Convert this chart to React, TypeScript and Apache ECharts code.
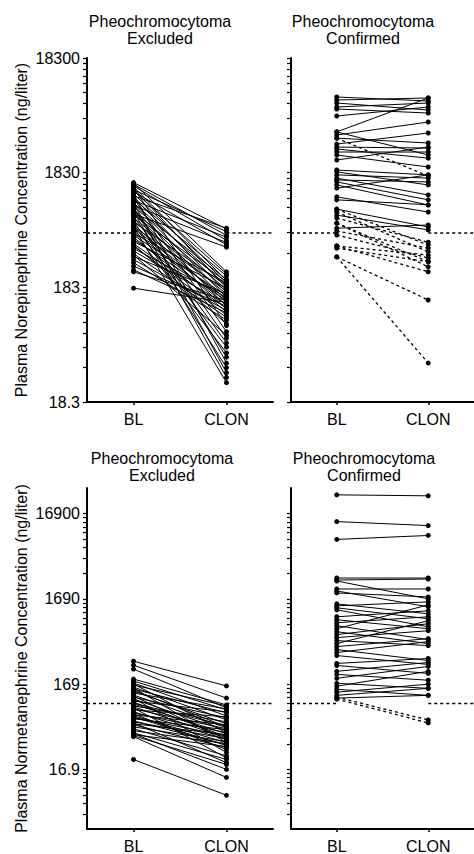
import React, { useEffect, useRef } from 'react';
import * as echarts from 'echarts';

// ---------- data (ng/liter), pairs are [BL, CLON] ----------
const categories = ['BL', 'CLON'];
const neTickLabels = ['18.3', '183', '1830', '18300'];
const nmnTickLabels = ['16.9', '169', '1690', '16900'];
const neBase = 18.3;
const nmnBase = 16.9;
const neReference = 545;
const nmnReference = 100;
const titleExcluded = 'Pheochromocytoma\nExcluded';
const titleConfirmed = 'Pheochromocytoma\nConfirmed';
const neAxisName = 'Plasma Norepinephrine Concentration (ng/liter)';
const nmnAxisName = 'Plasma Normetanephrine Concentration (ng/liter)';

const neExcluded: number[][] = [
  [1500, 590], [1450, 520], [1400, 470], [1300, 560], [1250, 430], [1150, 600], [1050, 500], [950, 450], [800, 410],
  [1480, 250], [1380, 210], [1330, 180], [1270, 240], [1200, 200], [1120, 165], [1080, 230], [1000, 190], [980, 150],
  [920, 215], [880, 140], [850, 175], [820, 125], [780, 205], [740, 160], [700, 135], [680, 190], [650, 118], [620, 170],
  [600, 145], [570, 128], [540, 200], [520, 155], [500, 112], [480, 140], [460, 180], [440, 120], [420, 105], [400, 150],
  [380, 130], [360, 100], [340, 160], [320, 115], [300, 95], [280, 125], [260, 110], [250, 140], [180, 135],
  [1350, 85], [1100, 75], [900, 66], [760, 60], [640, 55], [560, 49], [900, 45], [1200, 40], [700, 36.5], [1000, 33],
  [850, 30], [620, 27], [430, 88], [350, 70],
];

const neConfirmedSolid: number[][] = [
  [8360, 7720], [7870, 8200], [7410, 6440], [6840, 7410], [6570, 6060], [5710, 6840], [4150, 8200], [3900, 5060],
  [3660, 3320], [4150, 2610], [3250, 4060], [3060, 3000], [2940, 2450], [2770, 2770], [2610, 2050], [2360, 3060],
  [1930, 1750], [1860, 1430], [1750, 1640], [1640, 1170], [1580, 1520], [1520, 1060], [1430, 956], [1340, 1750],
  [1125, 830], [1060, 960], [880, 615], [780, 580], [600, 640],
];

const neConfirmedDashed: number[][] = [
  [880, 428], [830, 373], [735, 453], [665, 306], [567, 402], [523, 330], [665, 276], [420, 350], [402, 306],
  [420, 250], [337, 142], [337, 40], [3660, 1710],
];

const nmnExcluded: number[][] = [
  [314, 161], [282, 116], [254, 89], [194, 96.5], [184, 84.4], [174, 71.8], [165, 94], [156, 64.5], [148, 77.9],
  [140, 57.9], [133, 86.7], [126, 52], [119, 68.1], [113, 48], [107, 80], [101, 54.9], [99, 44.3], [94, 61.1],
  [91.5, 39.8], [86.7, 50.7], [84.4, 69.9], [80, 37.8], [77.9, 45.5], [73.8, 56.4], [71.8, 34.9], [68.1, 42],
  [66.3, 49.4], [62.8, 33], [61.1, 38.8], [57.9, 43.2], [56.4, 30.5], [53.4, 35.8], [50.7, 24.4], [48, 33.9],
  [45.5, 22.1], [43.2, 31.3], [42, 19.3], [44.3, 16.9], [40.9, 13.6], [22.1, 8.4], [152, 34.9], [116, 26.6],
  [89, 23.1], [170, 45.5], [122.6, 37.8], [75.8, 28.9], [59.5, 20.3], [144, 53.4], [104, 40.9], [69.9, 32.2],
];

const nmnConfirmedSolid: number[][] = [
  [28100, 27360], [13640, 12250], [8430, 9380], [2970, 2970], [2815, 2890], [2740, 1690], [2210, 2210], [2094, 1364],
  [1985, 1783], [1478, 1130], [1401, 1560], [1328, 989], [1259, 797], [1043, 1225], [963, 756], [888, 1043],
  [820, 563], [756, 1439], [697, 506], [644, 865], [594, 716], [548, 479], [506, 937], [466, 578], [430, 320],
  [397, 533], [366, 288], [296, 338], [280, 226], [239, 304], [220, 188], [198, 273], [173, 151], [160, 239],
  [147, 125], [136, 169], [125, 151], [116, 125],
];

const nmnConfirmedDashed: number[][] = [
  [119, 64.2], [113, 59.3],
];

// ---------- chart ----------
const FONT = '"Liberation Sans", Arial, Helvetica, sans-serif';

function buildOption() {
  const panels = [
    { grid: { left: 87, top: 58, width: 186, height: 344 }, base: neBase, min: 0, max: 3, labels: neTickLabels,
      solid: neExcluded, dashed: [] as number[][], refV: neReference, name: neAxisName,
      title: titleExcluded, tx: 160, ty: 13 },
    { grid: { left: 291, top: 58, width: 183, height: 344 }, base: neBase, min: 0, max: 3, labels: null,
      solid: neConfirmedSolid, dashed: neConfirmedDashed, refV: neReference, name: '',
      title: titleConfirmed, tx: 363, ty: 13 },
    { grid: { left: 87, top: 488, width: 186, height: 344 }, base: nmnBase, min: Math.log10(0.2), max: Math.log10(2) + 3,
      labels: nmnTickLabels, solid: nmnExcluded, dashed: [] as number[][], refV: nmnReference, name: nmnAxisName,
      title: titleExcluded, tx: 162, ty: 450 },
    { grid: { left: 291, top: 488, width: 183, height: 344 }, base: nmnBase, min: Math.log10(0.2), max: Math.log10(2) + 3,
      labels: null, solid: nmnConfirmedSolid, dashed: nmnConfirmedDashed, refV: nmnReference, name: '',
      title: titleConfirmed, tx: 364, ty: 450 },
  ];

  const grids: any[] = [];
  const xAxes: any[] = [];
  const yAxes: any[] = [];
  const series: any[] = [];
  const titles: any[] = [];

  panels.forEach((p, i) => {
    grids.push({ ...p.grid, containLabel: false });
    titles.push({
      text: p.title, left: p.tx, top: p.ty, textAlign: 'center', padding: 0,
      textStyle: { fontFamily: FONT, fontSize: 16, fontWeight: 'normal', color: '#000', lineHeight: 17 },
    });
    xAxes.push({
      type: 'value', gridIndex: i, min: -0.5, max: 1.5,
      axisLine: { show: true, onZero: false, lineStyle: { color: '#000', width: 2 } },
      splitLine: { show: false },
      axisTick: { show: true, customValues: [0, 1], length: 3, lineStyle: { color: '#000', width: 1.5 } },
      axisLabel: {
        show: true, customValues: [0, 1], margin: 9,
        formatter: (v: number) => categories[Math.round(v)],
        fontFamily: FONT, fontSize: 16, color: '#000',
      },
    });
    const majors = [0, 1, 2, 3];
    const allTicks: number[] = [...majors];
    for (let k = -1; k <= 3; k++) {
      for (let m = 2; m <= 9; m++) {
        const tv = k + Math.log10(m);
        if (tv > p.min + 0.005 && tv < p.max - 0.005) allTicks.push(tv);
      }
    }
    const mainIdx = yAxes.length;
    yAxes.push({
      type: 'value', gridIndex: i, min: p.min, max: p.max, position: 'left',
      axisLine: { show: true, onZero: false, lineStyle: { color: '#000', width: 2 } },
      splitLine: { show: false },
      axisTick: { show: true, customValues: allTicks, length: 4, lineStyle: { color: '#000', width: 1.2 } },
      axisLabel: {
        show: !!p.labels, customValues: majors, margin: 7,
        formatter: (v: number) => (p.labels ? p.labels[Math.round(v)] : ''),
        fontFamily: FONT, fontSize: 16, color: '#000',
      },
      name: p.name, nameLocation: 'middle', nameGap: 58, nameRotate: 90,
      nameTextStyle: { fontFamily: FONT, fontSize: 16, color: '#000' },
    });

    const t = (v: number) => Math.log10(v / p.base);
    const refT = t(p.refV);
    const refStyle = { color: '#000', width: 1.5, type: [3, 3] };
    series.push({
      type: 'line', xAxisIndex: i, yAxisIndex: mainIdx, symbol: 'none', silent: true,
      data: [[-0.5, refT], [0, refT]], lineStyle: refStyle, z: 1,
    });
    series.push({
      type: 'line', xAxisIndex: i, yAxisIndex: mainIdx, symbol: 'none', silent: true,
      data: [[1, refT], [1.5, refT]], lineStyle: refStyle, z: 1,
    });
    p.solid.forEach((pair) => {
      series.push({
        type: 'line', xAxisIndex: i, yAxisIndex: mainIdx, symbol: 'circle', symbolSize: 5,
        data: [[0, t(pair[0])], [1, t(pair[1])]],
        lineStyle: { color: '#000', width: 1 }, itemStyle: { color: '#000' }, z: 2,
      });
    });
    p.dashed.forEach((pair) => {
      series.push({
        type: 'line', xAxisIndex: i, yAxisIndex: mainIdx, symbol: 'circle', symbolSize: 5,
        data: [[0, t(pair[0])], [1, t(pair[1])]],
        lineStyle: { color: '#000', width: 1.3, type: [3, 3] }, itemStyle: { color: '#000' }, z: 2,
      });
    });
  });

  return {
    animation: false,
    backgroundColor: '#fff',
    title: titles,
    grid: grids,
    xAxis: xAxes,
    yAxis: yAxes,
    series,
  };
}

export default function App() {
  const ref = useRef<HTMLDivElement>(null);
  useEffect(() => {
    if (!ref.current) return;
    const chart = echarts.init(ref.current, null, { renderer: 'svg' });
    chart.setOption(buildOption() as any);
    return () => chart.dispose();
  }, []);
  return (
    <div
      ref={ref}
      style={{ position: 'absolute', left: 0, top: 0, width: 474, height: 854, background: '#fff' }}
    />
  );
}
